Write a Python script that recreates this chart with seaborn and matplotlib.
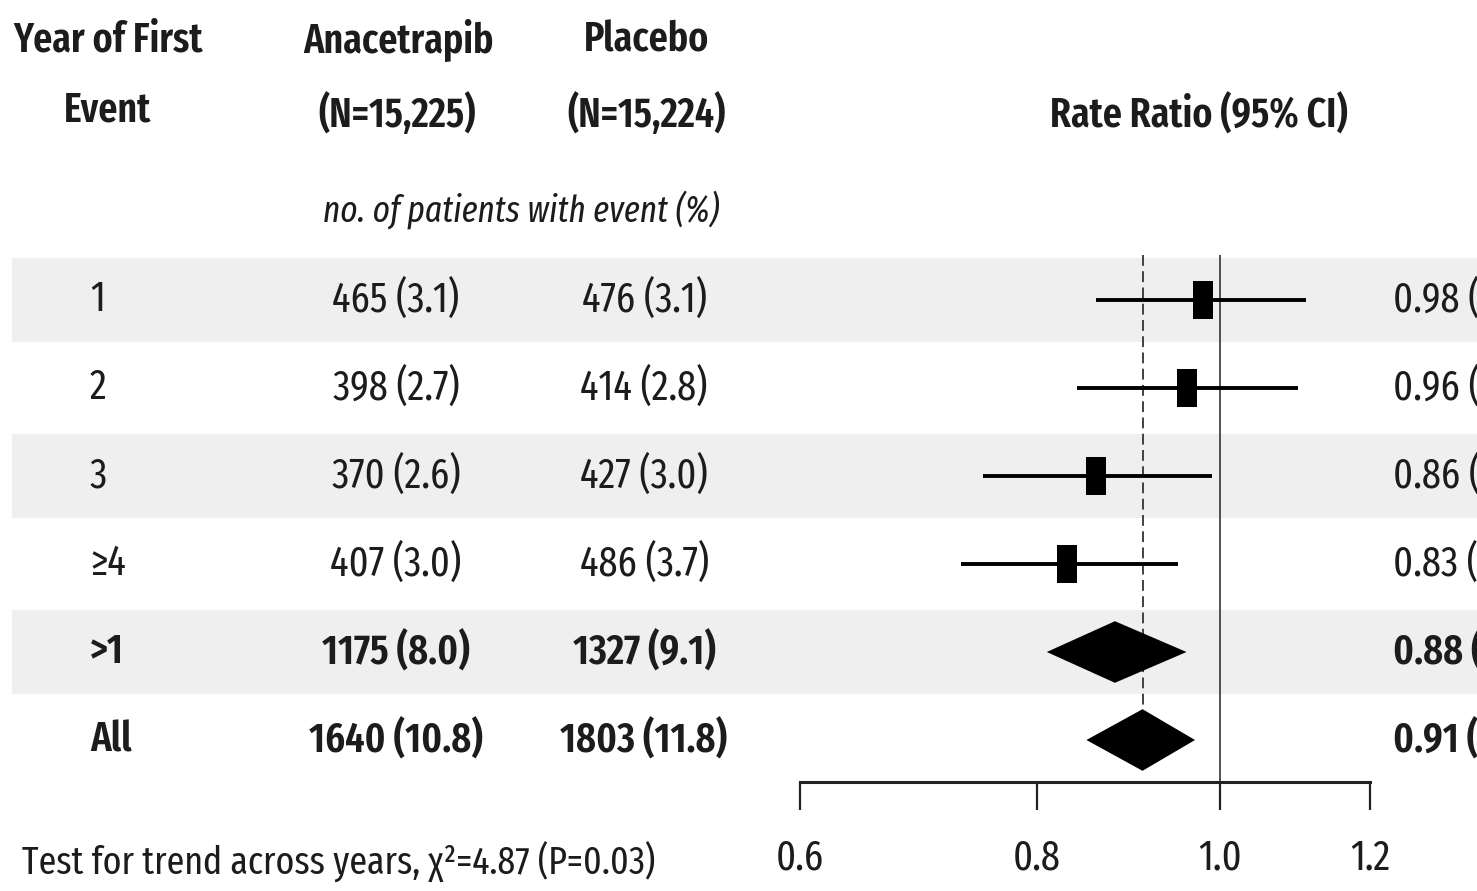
import glob
import os
import numpy as np
import pandas as pd
import matplotlib
matplotlib.use("Agg")
import matplotlib.pyplot as plt
import seaborn as sns
from matplotlib import font_manager
from matplotlib.font_manager import FontProperties
from matplotlib.path import Path
from matplotlib.markers import MarkerStyle
import matplotlib.transforms as mtransforms
from matplotlib.ticker import NullLocator

# ---------------- data ----------------
row_labels = ["1", "2", "3", "≥4", ">1", "All"]
anacetrapib = ["465 (3.1)", "398 (2.7)", "370 (2.6)", "407 (3.0)", "1175 (8.0)", "1640 (10.8)"]
placebo = ["476 (3.1)", "414 (2.8)", "427 (3.0)", "486 (3.7)", "1327 (9.1)", "1803 (11.8)"]
rate_ratio = [0.98, 0.96, 0.86, 0.83, 0.88, 0.91]
ci_low = [0.86, 0.84, 0.75, 0.73, 0.81, 0.85]
ci_high = [1.11, 1.10, 0.99, 0.95, 0.96, 0.97]
is_summary = [False, False, False, False, True, True]
overall_rr = 0.91
xticks = [0.6, 0.8, 1.0, 1.2]
xtick_labels = ["0.6", "0.8", "1.0", "1.2"]
footer = "Test for trend across years, χ²=4.87 (P=0.03)"

rows = list(range(len(row_labels)))
rr_text = [f"{r:.2f} ({l:.2f}–{h:.2f})" for r, l, h in zip(rate_ratio, ci_low, ci_high)]

# ---------------- fonts ----------------
sns.set_theme(style="white")
plt.rcParams["font.family"] = ["Liberation Sans", "DejaVu Sans"]

all_files = set(f.fname for f in font_manager.fontManager.ttflist)
all_files |= set(glob.glob("/usr/share/fonts/**/*.*", recursive=True))
by_name = {os.path.basename(f): f for f in all_files}

def fp(fname, size, fallback_weight="normal", fallback_style="normal"):
    if fname in by_name:
        return FontProperties(fname=by_name[fname], size=size)
    return FontProperties(family=["Liberation Sans", "DejaVu Sans"], size=size * 0.8,
                          weight=fallback_weight, style=fallback_style)

REG = "FiraSansExtraCondensed-Regular.ttf"
BOLD = "FiraSansExtraCondensed-SemiBold.ttf"
ITAL = "FiraSansExtraCondensed-Italic.ttf"

FS = 30
HFS = 29.5
TXT = "#1c1c1c"
BAND = "#efefef"

W, H = 1477, 891
fig = plt.figure(figsize=(W / 100, H / 100), dpi=100)
fig.patch.set_facecolor("white")

def px_to_row(ypx):
    return (ypx - 300) / 88.0

# background axes: full figure, rows in data units
ax_bg = fig.add_axes([0, 0, 1, 1], zorder=0)
ax_bg.set_xlim(0, 1)
ax_bg.set_ylim(px_to_row(H), px_to_row(0))
ax_bg.axis("off")
for r in rows:
    if r % 2 == 0:
        ax_bg.axhspan(r - 0.48, r + 0.48, xmin=12 / W, xmax=1, color=BAND, lw=0, zorder=0)

blend = mtransforms.blended_transform_factory(ax_bg.transAxes, ax_bg.transData)
for r, lab, a, p, t, s in zip(rows, row_labels, anacetrapib, placebo, rr_text, is_summary):
    prop = fp(BOLD, FS, "bold") if s else fp(REG, FS)
    ax_bg.text(90 / W, r, lab, transform=blend, ha="left", va="center", fontproperties=prop, color=TXT)
    ax_bg.text(396 / W, r, a, transform=blend, ha="center", va="center", fontproperties=prop, color=TXT)
    ax_bg.text(644 / W, r, p, transform=blend, ha="center", va="center", fontproperties=prop, color=TXT)
    ax_bg.text(1393 / W, r, t, transform=blend, ha="left", va="center", fontproperties=prop, color=TXT)

def ftext(xpx, ypx, s, prop, **kw):
    fig.text(xpx / W, 1 - ypx / H, s, color=TXT, fontproperties=prop, **kw)

hb = fp(BOLD, HFS, "bold")
ftext(108, 40, "Year of First", hb, ha="center", va="center")
ftext(108, 110, "Event", hb, ha="center", va="center")
ftext(398, 40, "Anacetrapib", hb, ha="center", va="center")
ftext(397, 115, "(N=15,225)", hb, ha="center", va="center")
ftext(647, 40, "Placebo", hb, ha="center", va="center")
ftext(647, 115, "(N=15,224)", hb, ha="center", va="center")
ftext(1199, 115, "Rate Ratio (95% CI)", hb, ha="center", va="center")
ftext(521, 210, "no. of patients with event (%)", fp(ITAL, 26, fallback_style="italic"), ha="center", va="center")
ftext(22, 862, footer, fp(REG, 28), ha="left", va="center")

# forest axes
left, right, top, bottom = 800, 1370, 255, 782
ax = fig.add_axes([left / W, 1 - bottom / H, (right - left) / W, (bottom - top) / H], zorder=1)
ax.patch.set_alpha(0)
ax.set_xscale("log")
ax.set_xlim(xticks[0], xticks[-1])
ax.set_ylim(px_to_row(bottom), px_to_row(top))
for sp in ["top", "left", "right"]:
    ax.spines[sp].set_visible(False)
ax.spines["bottom"].set_linewidth(2.2)
ax.spines["bottom"].set_color("#222222")
ax.set_xticks(xticks)
ax.set_xticklabels(xtick_labels)
ax.xaxis.set_minor_locator(NullLocator())
ax.set_yticks([])
ax.tick_params(axis="x", direction="out", length=20, width=1.6, color="#222222",
               pad=20, labelcolor=TXT, bottom=True)
for lab in ax.get_xticklabels():
    lab.set_fontproperties(fp(REG, FS))

ax.axvline(1.0, color="#444444", lw=1.3, zorder=1)
ax.vlines(overall_rr, px_to_row(top), rows[-1], colors="#333333", linestyles=(0, (6, 3)), lw=1.3, zorder=1)

df = pd.DataFrame({"row": rows, "rr": rate_ratio, "lo": ci_low, "hi": ci_high, "summary": is_summary})
ind = df[~df["summary"]]
ax.hlines(ind["row"], ind["lo"], ind["hi"], color="black", lw=2.8, zorder=2)
rect = MarkerStyle(Path([(-0.265, -0.5), (0.265, -0.5), (0.265, 0.5), (-0.265, 0.5), (-0.265, -0.5)],
                        [Path.MOVETO, Path.LINETO, Path.LINETO, Path.LINETO, Path.CLOSEPOLY]))
sns.scatterplot(data=ind, x="rr", y="row", marker=rect, s=760, color="black",
                linewidth=0, ax=ax, zorder=3, legend=False)
ax.set_xlabel("")
ax.set_ylabel("")

summ = df[df["summary"]]
for _, d in summ.iterrows():
    ax.fill([d["lo"], d["rr"], d["hi"], d["rr"]],
            [d["row"], d["row"] - 0.35, d["row"], d["row"] + 0.35],
            color="black", lw=0, zorder=3)

ax.set_xlim(xticks[0], xticks[-1])
ax.set_ylim(px_to_row(bottom), px_to_row(top))

fig.savefig("out.png", dpi=100)
